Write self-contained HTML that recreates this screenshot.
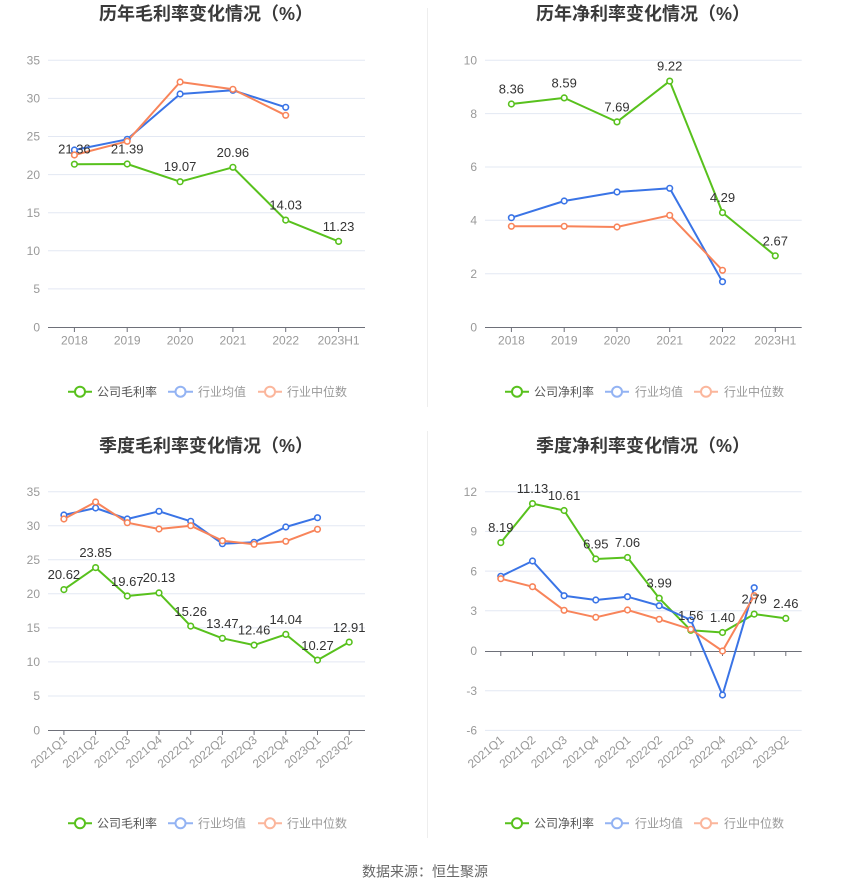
<!DOCTYPE html>
<html><head><meta charset="utf-8"><style>
html,body{margin:0;padding:0;background:#fff;}
svg{display:block;font-family:"Liberation Sans","Noto Sans CJK SC",sans-serif;}
.t{font-size:18px;font-weight:bold;fill:#3a3a3a;}
.ax{font-size:12px;fill:#999;}
.lb{font-size:13px;fill:#333;text-anchor:middle;}
.lg{font-size:12px;}
.g{fill:none;stroke:#e3e8f3;stroke-width:1;}
.axl{stroke:#6e7079;stroke-width:1;}
.G{fill:none;stroke:#58c11d;stroke-width:2;stroke-linejoin:round;}
.B{fill:none;stroke:#3a74e6;stroke-width:2;stroke-linejoin:round;}
.O{fill:none;stroke:#f8845a;stroke-width:2;stroke-linejoin:round;}
.mG circle{fill:#fff;stroke:#58c11d;stroke-width:1.6;}
.mB circle{fill:#fff;stroke:#3a74e6;stroke-width:1.6;}
.mO circle{fill:#fff;stroke:#f8845a;stroke-width:1.6;}
</style></head><body>
<svg width="850" height="891" viewBox="0 0 850 891" xmlns="http://www.w3.org/2000/svg">
<rect width="850" height="891" fill="#fff"/>
<line x1="427.5" y1="8" x2="427.5" y2="407" stroke="#eeeeee" stroke-width="1"/>
<line x1="427.5" y1="431" x2="427.5" y2="838" stroke="#eeeeee" stroke-width="1"/>

<!-- ===== Chart 1 ===== -->
<text class="t" x="99" y="20">历年毛利率变化情况（%）</text>
<g>
<line class="g" x1="48" y1="60.3" x2="365" y2="60.3"/>
<line class="g" x1="48" y1="98.4" x2="365" y2="98.4"/>
<line class="g" x1="48" y1="136.5" x2="365" y2="136.5"/>
<line class="g" x1="48" y1="174.6" x2="365" y2="174.6"/>
<line class="g" x1="48" y1="212.7" x2="365" y2="212.7"/>
<line class="g" x1="48" y1="250.8" x2="365" y2="250.8"/>
<line class="g" x1="48" y1="288.9" x2="365" y2="288.9"/>
<line class="axl" x1="48" y1="327.5" x2="365" y2="327.5"/>
<g class="axl">
<line x1="74.4" y1="327" x2="74.4" y2="332"/><line x1="127.2" y1="327" x2="127.2" y2="332"/><line x1="180.1" y1="327" x2="180.1" y2="332"/><line x1="232.9" y1="327" x2="232.9" y2="332"/><line x1="285.7" y1="327" x2="285.7" y2="332"/><line x1="338.6" y1="327" x2="338.6" y2="332"/>
</g>
<g class="ax" text-anchor="end">
<text x="40" y="64.5">35</text><text x="40" y="102.6">30</text><text x="40" y="140.7">25</text><text x="40" y="178.8">20</text><text x="40" y="216.9">15</text><text x="40" y="255">10</text><text x="40" y="293.1">5</text><text x="40" y="331.5">0</text>
</g>
<g class="ax" text-anchor="middle">
<text x="74.4" y="344.5">2018</text><text x="127.2" y="344.5">2019</text><text x="180.1" y="344.5">2020</text><text x="232.9" y="344.5">2021</text><text x="285.7" y="344.5">2022</text><text x="338.6" y="344.5">2023H1</text>
</g>
<polyline class="G" points="74.4,164.2 127.2,164.0 180.1,181.7 232.9,167.3 285.7,220.1 338.6,241.4"/>
<polyline class="B" points="74.4,150 127.2,139.3 180.1,94 232.9,90.3 285.7,107.3"/>
<polyline class="O" points="74.4,155 127.2,141.3 180.1,82 232.9,89.3 285.7,115.3"/>
<g class="mG"><circle cx="74.4" cy="164.2" r="2.8"/><circle cx="127.2" cy="164.0" r="2.8"/><circle cx="180.1" cy="181.7" r="2.8"/><circle cx="232.9" cy="167.3" r="2.8"/><circle cx="285.7" cy="220.1" r="2.8"/><circle cx="338.6" cy="241.4" r="2.8"/></g>
<g class="lb"><text x="74.4" y="153.7">21.36</text><text x="127.2" y="153.5">21.39</text><text x="180.1" y="171.2">19.07</text><text x="232.9" y="156.8">20.96</text><text x="285.7" y="209.6">14.03</text><text x="338.6" y="230.9">11.23</text></g>
<g class="mB"><circle cx="74.4" cy="150" r="2.8"/><circle cx="127.2" cy="139.3" r="2.8"/><circle cx="180.1" cy="94" r="2.8"/><circle cx="232.9" cy="90.3" r="2.8"/><circle cx="285.7" cy="107.3" r="2.8"/></g>
<g class="mO"><circle cx="74.4" cy="155" r="2.8"/><circle cx="127.2" cy="141.3" r="2.8"/><circle cx="180.1" cy="82" r="2.8"/><circle cx="232.9" cy="89.3" r="2.8"/><circle cx="285.7" cy="115.3" r="2.8"/></g>
<!-- legend -->
<line x1="68" y1="391.7" x2="92" y2="391.7" stroke="#58c11d" stroke-width="2"/><circle cx="80" cy="391.7" r="5" fill="#fff" stroke="#58c11d" stroke-width="2"/>
<text class="lg" x="97" y="396" fill="#555">公司毛利率</text>
<line x1="168" y1="391.7" x2="193" y2="391.7" stroke="#93b3f3" stroke-width="2"/><circle cx="180.5" cy="391.7" r="5" fill="#fff" stroke="#93b3f3" stroke-width="2"/>
<text class="lg" x="198" y="396" fill="#999">行业均值</text>
<line x1="258" y1="391.7" x2="282" y2="391.7" stroke="#fbb69c" stroke-width="2"/><circle cx="270" cy="391.7" r="5" fill="#fff" stroke="#fbb69c" stroke-width="2"/>
<text class="lg" x="287" y="396" fill="#999">行业中位数</text>
</g>

<!-- ===== Chart 2 ===== -->
<text class="t" x="536" y="20">历年净利率变化情况（%）</text>
<g>
<line class="g" x1="485" y1="60.3" x2="801.7" y2="60.3"/>
<line class="g" x1="485" y1="113.6" x2="801.7" y2="113.6"/>
<line class="g" x1="485" y1="167" x2="801.7" y2="167"/>
<line class="g" x1="485" y1="220.3" x2="801.7" y2="220.3"/>
<line class="g" x1="485" y1="273.7" x2="801.7" y2="273.7"/>
<line class="axl" x1="485" y1="327.5" x2="801.7" y2="327.5"/>
<g class="axl">
<line x1="511.4" y1="327" x2="511.4" y2="332"/><line x1="564.2" y1="327" x2="564.2" y2="332"/><line x1="617" y1="327" x2="617" y2="332"/><line x1="669.7" y1="327" x2="669.7" y2="332"/><line x1="722.5" y1="327" x2="722.5" y2="332"/><line x1="775.3" y1="327" x2="775.3" y2="332"/>
</g>
<g class="ax" text-anchor="end">
<text x="477" y="64.5">10</text><text x="477" y="117.8">8</text><text x="477" y="171.2">6</text><text x="477" y="224.5">4</text><text x="477" y="277.9">2</text><text x="477" y="331.5">0</text>
</g>
<g class="ax" text-anchor="middle">
<text x="511.4" y="344.5">2018</text><text x="564.2" y="344.5">2019</text><text x="617" y="344.5">2020</text><text x="669.7" y="344.5">2021</text><text x="722.5" y="344.5">2022</text><text x="775.3" y="344.5">2023H1</text>
</g>
<polyline class="G" points="511.4,104.0 564.2,97.9 617,121.9 669.7,81.1 722.5,212.6 775.3,255.8"/>
<polyline class="B" points="511.4,217.7 564.2,201 617,192 669.7,188.3 722.5,281.7"/>
<polyline class="O" points="511.4,226.3 564.2,226.3 617,227 669.7,215.3 722.5,270.3"/>
<g class="mG"><circle cx="511.4" cy="104.0" r="2.8"/><circle cx="564.2" cy="97.9" r="2.8"/><circle cx="617" cy="121.9" r="2.8"/><circle cx="669.7" cy="81.1" r="2.8"/><circle cx="722.5" cy="212.6" r="2.8"/><circle cx="775.3" cy="255.8" r="2.8"/></g>
<g class="mB"><circle cx="511.4" cy="217.7" r="2.8"/><circle cx="564.2" cy="201" r="2.8"/><circle cx="617" cy="192" r="2.8"/><circle cx="669.7" cy="188.3" r="2.8"/><circle cx="722.5" cy="281.7" r="2.8"/></g>
<g class="mO"><circle cx="511.4" cy="226.3" r="2.8"/><circle cx="564.2" cy="226.3" r="2.8"/><circle cx="617" cy="227" r="2.8"/><circle cx="669.7" cy="215.3" r="2.8"/><circle cx="722.5" cy="270.3" r="2.8"/></g>
<g class="lb"><text x="511.4" y="93.5">8.36</text><text x="564.2" y="87.4">8.59</text><text x="617" y="111.4">7.69</text><text x="669.7" y="70.6">9.22</text><text x="722.5" y="202.1">4.29</text><text x="775.3" y="245.3">2.67</text></g>
<line x1="505" y1="391.7" x2="529" y2="391.7" stroke="#58c11d" stroke-width="2"/><circle cx="517" cy="391.7" r="5" fill="#fff" stroke="#58c11d" stroke-width="2"/>
<text class="lg" x="534" y="396" fill="#555">公司净利率</text>
<line x1="605" y1="391.7" x2="629" y2="391.7" stroke="#93b3f3" stroke-width="2"/><circle cx="617" cy="391.7" r="5" fill="#fff" stroke="#93b3f3" stroke-width="2"/>
<text class="lg" x="635" y="396" fill="#999">行业均值</text>
<line x1="694" y1="391.7" x2="718" y2="391.7" stroke="#fbb69c" stroke-width="2"/><circle cx="706" cy="391.7" r="5" fill="#fff" stroke="#fbb69c" stroke-width="2"/>
<text class="lg" x="724" y="396" fill="#999">行业中位数</text>
</g>

<!-- ===== Chart 3 ===== -->
<text class="t" x="99" y="452">季度毛利率变化情况（%）</text>
<g>
<line class="g" x1="48" y1="491.7" x2="365" y2="491.7"/>
<line class="g" x1="48" y1="525.7" x2="365" y2="525.7"/>
<line class="g" x1="48" y1="559.8" x2="365" y2="559.8"/>
<line class="g" x1="48" y1="593.8" x2="365" y2="593.8"/>
<line class="g" x1="48" y1="627.9" x2="365" y2="627.9"/>
<line class="g" x1="48" y1="661.9" x2="365" y2="661.9"/>
<line class="g" x1="48" y1="696" x2="365" y2="696"/>
<line class="axl" x1="48" y1="730.5" x2="365" y2="730.5"/>
<g class="axl">
<line x1="63.9" y1="730" x2="63.9" y2="735"/><line x1="95.6" y1="730" x2="95.6" y2="735"/><line x1="127.3" y1="730" x2="127.3" y2="735"/><line x1="159" y1="730" x2="159" y2="735"/><line x1="190.7" y1="730" x2="190.7" y2="735"/><line x1="222.4" y1="730" x2="222.4" y2="735"/><line x1="254.1" y1="730" x2="254.1" y2="735"/><line x1="285.8" y1="730" x2="285.8" y2="735"/><line x1="317.5" y1="730" x2="317.5" y2="735"/><line x1="349.2" y1="730" x2="349.2" y2="735"/>
</g>
<g class="ax" text-anchor="end">
<text x="40" y="495.9">35</text><text x="40" y="529.9">30</text><text x="40" y="564">25</text><text x="40" y="598">20</text><text x="40" y="632.1">15</text><text x="40" y="666.1">10</text><text x="40" y="700.2">5</text><text x="40" y="734.5">0</text>
</g>
<g class="ax" text-anchor="end">
<text transform="translate(65,738) rotate(-40)" dy="0.35em">2021Q1</text>
<text transform="translate(96.7,738) rotate(-40)" dy="0.35em">2021Q2</text>
<text transform="translate(128.4,738) rotate(-40)" dy="0.35em">2021Q3</text>
<text transform="translate(160.1,738) rotate(-40)" dy="0.35em">2021Q4</text>
<text transform="translate(191.8,738) rotate(-40)" dy="0.35em">2022Q1</text>
<text transform="translate(223.5,738) rotate(-40)" dy="0.35em">2022Q2</text>
<text transform="translate(255.2,738) rotate(-40)" dy="0.35em">2022Q3</text>
<text transform="translate(286.9,738) rotate(-40)" dy="0.35em">2022Q4</text>
<text transform="translate(318.6,738) rotate(-40)" dy="0.35em">2023Q1</text>
<text transform="translate(350.3,738) rotate(-40)" dy="0.35em">2023Q2</text>
</g>
<polyline class="G" points="63.9,589.6 95.6,567.6 127.3,596.0 159.0,592.9 190.7,626.1 222.4,638.3 254.1,645.1 285.8,634.4 317.5,660.1 349.2,642.1"/>
<polyline class="B" points="63.9,515 95.6,508 127.3,519 159.0,511.3 190.7,521.3 222.4,543.7 254.1,542.3 285.8,527 317.5,517.7"/>
<polyline class="O" points="63.9,519 95.6,502 127.3,522.7 159.0,529 190.7,525.7 222.4,540.7 254.1,544.3 285.8,541.3 317.5,529.3"/>
<g class="mG"><circle cx="63.9" cy="589.6" r="2.8"/><circle cx="95.6" cy="567.6" r="2.8"/><circle cx="127.3" cy="596.0" r="2.8"/><circle cx="159.0" cy="592.9" r="2.8"/><circle cx="190.7" cy="626.1" r="2.8"/><circle cx="222.4" cy="638.3" r="2.8"/><circle cx="254.1" cy="645.1" r="2.8"/><circle cx="285.8" cy="634.4" r="2.8"/><circle cx="317.5" cy="660.1" r="2.8"/><circle cx="349.2" cy="642.1" r="2.8"/></g>
<g class="mB"><circle cx="63.9" cy="515" r="2.8"/><circle cx="95.6" cy="508" r="2.8"/><circle cx="127.3" cy="519" r="2.8"/><circle cx="159.0" cy="511.3" r="2.8"/><circle cx="190.7" cy="521.3" r="2.8"/><circle cx="222.4" cy="543.7" r="2.8"/><circle cx="254.1" cy="542.3" r="2.8"/><circle cx="285.8" cy="527" r="2.8"/><circle cx="317.5" cy="517.7" r="2.8"/></g>
<g class="mO"><circle cx="63.9" cy="519" r="2.8"/><circle cx="95.6" cy="502" r="2.8"/><circle cx="127.3" cy="522.7" r="2.8"/><circle cx="159.0" cy="529" r="2.8"/><circle cx="190.7" cy="525.7" r="2.8"/><circle cx="222.4" cy="540.7" r="2.8"/><circle cx="254.1" cy="544.3" r="2.8"/><circle cx="285.8" cy="541.3" r="2.8"/><circle cx="317.5" cy="529.3" r="2.8"/></g>
<g class="lb"><text x="63.9" y="579">20.62</text><text x="95.6" y="557.2">23.85</text><text x="127.3" y="586.2">19.67</text><text x="159" y="581.8">20.13</text><text x="190.7" y="616.2">15.26</text><text x="222.4" y="627.8">13.47</text><text x="254.1" y="634.5">12.46</text><text x="285.8" y="623.8">14.04</text><text x="317.5" y="650.2">10.27</text><text x="349.2" y="632.2">12.91</text></g>
<line x1="68" y1="823.3" x2="92" y2="823.3" stroke="#58c11d" stroke-width="2"/><circle cx="80" cy="823.3" r="5" fill="#fff" stroke="#58c11d" stroke-width="2"/>
<text class="lg" x="97" y="827.6" fill="#555">公司毛利率</text>
<line x1="168" y1="823.3" x2="193" y2="823.3" stroke="#93b3f3" stroke-width="2"/><circle cx="180.5" cy="823.3" r="5" fill="#fff" stroke="#93b3f3" stroke-width="2"/>
<text class="lg" x="198" y="827.6" fill="#999">行业均值</text>
<line x1="258" y1="823.3" x2="282" y2="823.3" stroke="#fbb69c" stroke-width="2"/><circle cx="270" cy="823.3" r="5" fill="#fff" stroke="#fbb69c" stroke-width="2"/>
<text class="lg" x="287" y="827.6" fill="#999">行业中位数</text>
</g>

<!-- ===== Chart 4 ===== -->
<text class="t" x="536" y="452">季度净利率变化情况（%）</text>
<g>
<line class="g" x1="485" y1="491.7" x2="801.7" y2="491.7"/>
<line class="g" x1="485" y1="531.4" x2="801.7" y2="531.4"/>
<line class="g" x1="485" y1="571.1" x2="801.7" y2="571.1"/>
<line class="g" x1="485" y1="610.8" x2="801.7" y2="610.8"/>
<line class="g" x1="485" y1="690.7" x2="801.7" y2="690.7"/>
<line class="g" x1="485" y1="730.4" x2="801.7" y2="730.4"/>
<line class="axl" x1="485" y1="651.5" x2="801.7" y2="651.5"/>
<g class="axl">
<line x1="500.8" y1="651" x2="500.8" y2="656"/><line x1="532.5" y1="651" x2="532.5" y2="656"/><line x1="564.1" y1="651" x2="564.1" y2="656"/><line x1="595.8" y1="651" x2="595.8" y2="656"/><line x1="627.5" y1="651" x2="627.5" y2="656"/><line x1="659.2" y1="651" x2="659.2" y2="656"/><line x1="690.8" y1="651" x2="690.8" y2="656"/><line x1="722.5" y1="651" x2="722.5" y2="656"/><line x1="754.2" y1="651" x2="754.2" y2="656"/><line x1="785.8" y1="651" x2="785.8" y2="656"/>
</g>
<g class="ax" text-anchor="end">
<text x="477" y="495.9">12</text><text x="477" y="535.6">9</text><text x="477" y="575.3">6</text><text x="477" y="615">3</text><text x="477" y="655.2">0</text><text x="477" y="694.9">-3</text><text x="477" y="734.6">-6</text>
</g>
<g class="ax" text-anchor="end">
<text transform="translate(502,738) rotate(-40)" dy="0.35em">2021Q1</text>
<text transform="translate(533.6,738) rotate(-40)" dy="0.35em">2021Q2</text>
<text transform="translate(565.2,738) rotate(-40)" dy="0.35em">2021Q3</text>
<text transform="translate(596.9,738) rotate(-40)" dy="0.35em">2021Q4</text>
<text transform="translate(628.6,738) rotate(-40)" dy="0.35em">2022Q1</text>
<text transform="translate(660.3,738) rotate(-40)" dy="0.35em">2022Q2</text>
<text transform="translate(691.9,738) rotate(-40)" dy="0.35em">2022Q3</text>
<text transform="translate(723.6,738) rotate(-40)" dy="0.35em">2022Q4</text>
<text transform="translate(755.3,738) rotate(-40)" dy="0.35em">2023Q1</text>
<text transform="translate(786.9,738) rotate(-40)" dy="0.35em">2023Q2</text>
</g>
<polyline class="G" points="500.8,542.6 532.5,503.6 564.1,510.5 595.8,559.0 627.5,557.5 659.2,598.2 690.8,630.3 722.5,632.5 754.2,614.1 785.8,618.4"/>
<polyline class="B" points="500.8,576.3 532.5,561 564.1,595.7 595.8,600 627.5,596.7 659.2,605.7 690.8,620 722.5,695 754.2,587.7"/>
<polyline class="O" points="500.8,578.7 532.5,586.7 564.1,610.3 595.8,617.3 627.5,610 659.2,619.3 690.8,629.3 722.5,651 754.2,595.7"/>
<g class="mG"><circle cx="500.8" cy="542.6" r="2.8"/><circle cx="532.5" cy="503.6" r="2.8"/><circle cx="564.1" cy="510.5" r="2.8"/><circle cx="595.8" cy="559.0" r="2.8"/><circle cx="627.5" cy="557.5" r="2.8"/><circle cx="659.2" cy="598.2" r="2.8"/><circle cx="690.8" cy="630.3" r="2.8"/><circle cx="722.5" cy="632.5" r="2.8"/><circle cx="754.2" cy="614.1" r="2.8"/><circle cx="785.8" cy="618.4" r="2.8"/></g>
<g class="mB"><circle cx="500.8" cy="576.3" r="2.8"/><circle cx="532.5" cy="561" r="2.8"/><circle cx="564.1" cy="595.7" r="2.8"/><circle cx="595.8" cy="600" r="2.8"/><circle cx="627.5" cy="596.7" r="2.8"/><circle cx="659.2" cy="605.7" r="2.8"/><circle cx="690.8" cy="620" r="2.8"/><circle cx="722.5" cy="695" r="2.8"/><circle cx="754.2" cy="587.7" r="2.8"/></g>
<g class="mO"><circle cx="500.8" cy="578.7" r="2.8"/><circle cx="532.5" cy="586.7" r="2.8"/><circle cx="564.1" cy="610.3" r="2.8"/><circle cx="595.8" cy="617.3" r="2.8"/><circle cx="627.5" cy="610" r="2.8"/><circle cx="659.2" cy="619.3" r="2.8"/><circle cx="690.8" cy="629.3" r="2.8"/><circle cx="722.5" cy="651" r="2.8"/><circle cx="754.2" cy="595.7" r="2.8"/></g>
<g class="lb"><text x="500.8" y="532.1">8.19</text><text x="532.5" y="493.1">11.13</text><text x="564.1" y="500">10.61</text><text x="595.8" y="548.5">6.95</text><text x="627.5" y="547">7.06</text><text x="659.2" y="587.7">3.99</text><text x="690.8" y="619.8">1.56</text><text x="722.5" y="622">1.40</text><text x="754.2" y="603.6">2.79</text><text x="785.8" y="607.9">2.46</text></g>
<line x1="505" y1="823.3" x2="529" y2="823.3" stroke="#58c11d" stroke-width="2"/><circle cx="517" cy="823.3" r="5" fill="#fff" stroke="#58c11d" stroke-width="2"/>
<text class="lg" x="534" y="827.6" fill="#555">公司净利率</text>
<line x1="605" y1="823.3" x2="629" y2="823.3" stroke="#93b3f3" stroke-width="2"/><circle cx="617" cy="823.3" r="5" fill="#fff" stroke="#93b3f3" stroke-width="2"/>
<text class="lg" x="635" y="827.6" fill="#999">行业均值</text>
<line x1="694" y1="823.3" x2="718" y2="823.3" stroke="#fbb69c" stroke-width="2"/><circle cx="706" cy="823.3" r="5" fill="#fff" stroke="#fbb69c" stroke-width="2"/>
<text class="lg" x="724" y="827.6" fill="#999">行业中位数</text>
</g>

<text x="425" y="876.5" text-anchor="middle" font-size="14" fill="#666">数据来源：恒生聚源</text>
</svg>
</body></html>
